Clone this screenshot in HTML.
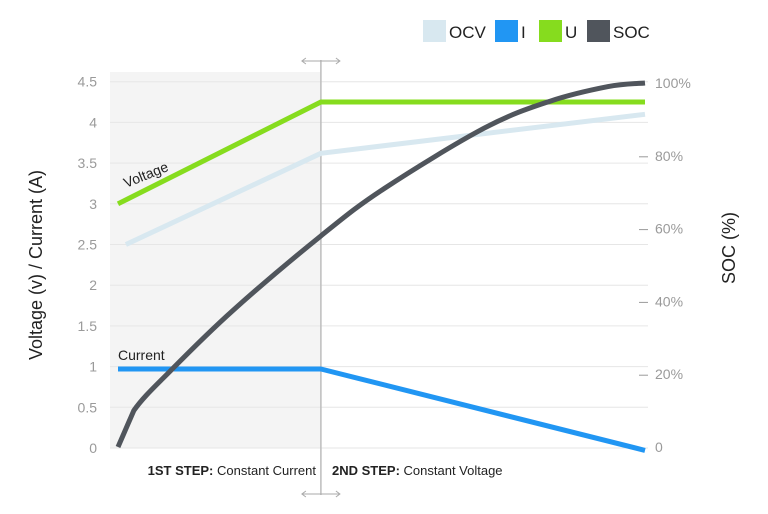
<!DOCTYPE html>
<html><head><meta charset="utf-8"><style>
body{margin:0;background:#fff;}
svg{display:block;font-family:"Liberation Sans",sans-serif;}
</style></head><body>
<svg id="chart" width="768" height="514" viewBox="0 0 768 514"></svg>
<script>
const leftTicks=[0,0.5,1,1.5,2,2.5,3,3.5,4,4.5];
const leftTickLabels=["0","0.5","1","1.5","2","2.5","3","3.5","4","4.5"];
const rightTicks=[0,20,40,60,80,100];
const rightTickLabels=["0","20%","40%","60%","80%","100%"];
const stepTime=3.85;
const uTimes=[0,3.85,10];
const uValues=[3.0,4.25,4.25];
const ocvTimes=[0.15,3.85,10];
const ocvValues=[2.5,3.62,4.1];
const iTimes=[0,3.85,10];
const iValues=[0.97,0.97,-0.03];
const socTimes=[0,0.3,1,2.18,3.85,5.05,6.95,8.2,9.3,10];
const socValues=[0,10,21,37.5,58,71,87.6,95,99,100];

const NS="http://www.w3.org/2000/svg";
const svg=document.getElementById('chart');
const x=t=>118+t*52.7;
const yL=v=>448-v*81.4;
const yR=s=>447-s*3.64;
function mk(tag,attrs,parent){const e=document.createElementNS(NS,tag);for(const k in attrs)e.setAttribute(k,attrs[k]);(parent||svg).appendChild(e);return e;}

let sh=mk('rect',{x:110,y:72,width:x(stepTime)-110,height:376,fill:'#f4f4f4'});


leftTicks.forEach((v,i)=>{
  let g=mk('line',{x1:110,x2:648,y1:yL(v),y2:yL(v),stroke:'#e6e6e6','stroke-width':1});
  
  
  let t=mk('text',{x:97,y:yL(v)+5,'text-anchor':'end','font-size':14,fill:'#9a9a9a'});
  t.textContent=leftTickLabels[i];
  
  
});
rightTicks.forEach((s,i)=>{
  if(s>0&&s<100){let m=mk('line',{x1:639,x2:648,y1:yR(s)+1,y2:yR(s)+1,stroke:'#9a9a9a','stroke-width':1});
  
  }
  let t=mk('text',{x:655,y:yR(s)+5,'font-size':14,fill:'#9a9a9a'});
  t.textContent=rightTickLabels[i];
  
  
});
const sx=x(stepTime);
let vl=mk('line',{x1:sx,x2:sx,y1:60,y2:495,stroke:'#bdbdbd','stroke-width':1.5});


[61,494].forEach(yy=>{
  let a=mk('path',{d:`M${sx-19} ${yy}H${sx+19}M${sx-15} ${yy-3}L${sx-19} ${yy}L${sx-15} ${yy+3}M${sx+15} ${yy-3}L${sx+19} ${yy}L${sx+15} ${yy+3}`,stroke:'#aaa','stroke-width':1,fill:'none'});
  
  
});
function series(ts,vs,yf,color,w,name,smooth){
  const P=ts.map((t,i)=>[x(t),yf(vs[i])]);
  let d='M'+P[0][0].toFixed(1)+' '+P[0][1].toFixed(1);
  for(let i=1;i<P.length;i++){
    if(!smooth||i===1){d+='L'+P[i][0].toFixed(1)+' '+P[i][1].toFixed(1);continue;}
    const p0=P[i-2],p1=P[i-1],p2=P[i],p3=P[i+1]||P[i];
    const c1=[p1[0]+(p2[0]-p0[0])/6,p1[1]+(p2[1]-p0[1])/6];
    const c2=[p2[0]-(p3[0]-p1[0])/6,p2[1]-(p3[1]-p1[1])/6];
    d+=`C${c1[0].toFixed(1)} ${c1[1].toFixed(1)} ${c2[0].toFixed(1)} ${c2[1].toFixed(1)} ${p2[0].toFixed(1)} ${p2[1].toFixed(1)}`;
  }
  let p=mk('path',{d,stroke:color,'stroke-width':w,fill:'none','stroke-linejoin':'round'});
  
  
}
series(ocvTimes,ocvValues,yL,'#d8e8f0',5,'ocv-line',false);
series(uTimes,uValues,yL,'#86dc1e',5,'voltage-line',false);
series(iTimes,iValues,yL,'#2196f3',5,'current-line',false);
series(socTimes,socValues,yR,'#50555c',5,'soc-line',true);
let vt=mk('text',{x:0,y:0,'font-size':14,fill:'#222',transform:`translate(126,188) rotate(-22)`});
vt.textContent='Voltage';


let ct=mk('text',{x:118,y:360,'font-size':14,fill:'#222'});
ct.textContent='Current';


let s1=mk('text',{x:316,y:475,'text-anchor':'end','font-size':13,fill:'#222'});
s1.innerHTML='<tspan font-weight="bold">1ST STEP:</tspan> Constant Current';


let s2=mk('text',{x:332,y:475,'font-size':13,fill:'#222'});
s2.innerHTML='<tspan font-weight="bold">2ND STEP:</tspan> Constant Voltage';


let lt=mk('text',{x:0,y:0,'font-size':18,fill:'#222','text-anchor':'middle',transform:'translate(42,265) rotate(-90)'});
lt.textContent='Voltage (v) / Current (A)';


let rt=mk('text',{x:0,y:0,'font-size':18,fill:'#222','text-anchor':'middle',transform:'translate(735,248) rotate(-90)'});
rt.textContent='SOC (%)';


const legNames=['OCV','I','U','SOC'];
const legColors=['#d8e8f0','#2196f3','#86dc1e','#50555c'];
const legX=[423,495,539,587];
legNames.forEach((n,i)=>{
  let g=mk('g',{});
  
  
  mk('rect',{x:legX[i],y:20,width:23,height:22,fill:legColors[i]},g);
  let t=mk('text',{x:legX[i]+26,y:38,'font-size':17,fill:'#222'},g);
  t.textContent=n;
});
</script>
</body></html>
